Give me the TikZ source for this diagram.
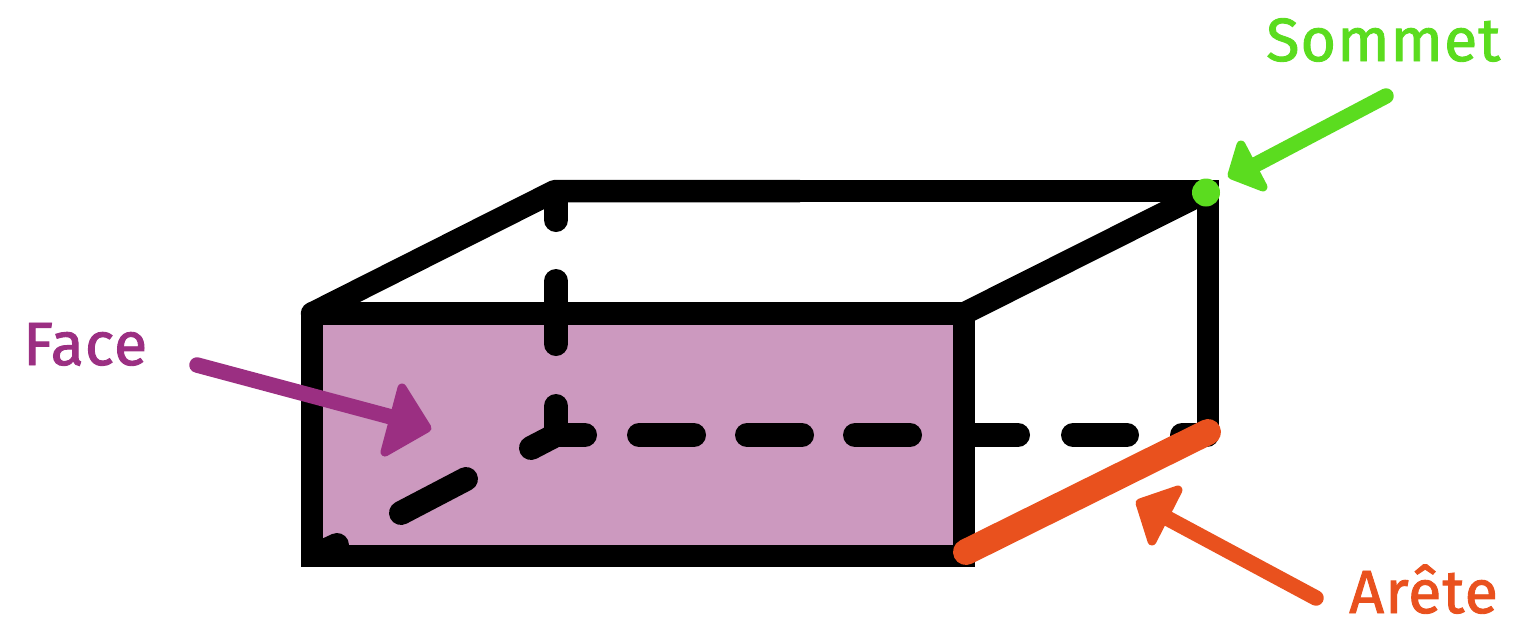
\documentclass[tikz,border=0pt]{standalone}
\usepackage{fontspec}
\newfontfamily\labfont[LetterSpace=1.8,FakeBold=1.5]{Fira Sans}
\definecolor{facefill}{HTML}{CC99BF}
\definecolor{facecol}{HTML}{9B2F82}
\definecolor{vertexcol}{HTML}{5BDC1F}
\definecolor{edgecol}{HTML}{E9511E}
\tikzset{
  edgeline/.style={line width=22.5pt,line join=miter,line cap=butt,black},
  hidden/.style={line width=24pt,line cap=round,black},
  shaft/.style={line width=15.5pt,line cap=round},
  tiphead/.style={line width=9pt,line join=round},
  lab/.style={inner sep=0pt,anchor=base west,font=\labfont\fontsize{61}{61}\selectfont}
}
\begin{document}
\begin{tikzpicture}[x=1pt,y=-1pt]
\useasboundingbox (0,0) rectangle (1534,619);
\coordinate (A) at (312,313.5); \coordinate (B) at (964,313.5);
\coordinate (C) at (964,556); \coordinate (D) at (312,556);
\coordinate (E) at (555,191); \coordinate (F) at (1208,191);
\coordinate (G) at (1208,435); \coordinate (H) at (556,435);
\coordinate (M) at (800,191); \coordinate (L) at (312,400);
\fill[facefill] (A) -- (B) -- (C) -- (D) -- cycle;
% hidden edges
\draw[hidden] (556,200) -- (556,220);
\draw[hidden] (556,281) -- (556,344);
\draw[hidden] (556,406) -- (H) -- (585,435);
\draw[hidden] (H) -- (531,448);
\draw[hidden] (466,479) -- (401,513);
\draw[hidden] (337,545) -- (322,552);
\foreach \a/\b in {639/694,747/802,855/910,975/1018,1073/1127,1182/1207}
  \draw[hidden] (\a,435) -- (\b,435);
% visible edges
\draw[edgeline,line cap=round] (A) -- (B) -- (C) -- (D) -- (A);
\draw[edgeline] (C) -- (D) -- (L);
\draw[edgeline,line join=bevel] (A) -- (E) -- (M);
\draw[edgeline] (M) -- (F) -- (G);
\draw[edgeline] (B) -- (F);
% face arrow
\coordinate (fs) at (197,365); \coordinate (fe) at (395,418);
\draw[shaft,facecol] (fs) -- (fe);
\filldraw[tiphead,facecol] (402,388) -- (427,428) -- (385,452) -- cycle;
% vertex
\fill[vertexcol] (1206,192.5) circle (14pt);
\coordinate (ss) at (1386,96); \coordinate (se) at (1255,165);
\draw[shaft,vertexcol] (ss) -- (se);
\filldraw[tiphead,vertexcol] (1241,145) -- (1232,175) -- (1263,187) -- cycle;
% edge
\coordinate (as) at (1316,598); \coordinate (ae) at (1165,517);
\draw[line width=26pt,line cap=round,edgecol] (966,552) -- (1208,432);
\draw[shaft,edgecol] (as) -- (ae);
\filldraw[tiphead,edgecol] (1178,490) -- (1140,503) -- (1152,541) -- cycle;
% labels
\node[lab,text=facecol] (face) at (23,365) {Face};
\node[lab,text=vertexcol] (sommet) at (1266,61) {Sommet};
\node[lab,text=edgecol] (arete) at (1349,613) {Arête};
\end{tikzpicture}
\end{document}
